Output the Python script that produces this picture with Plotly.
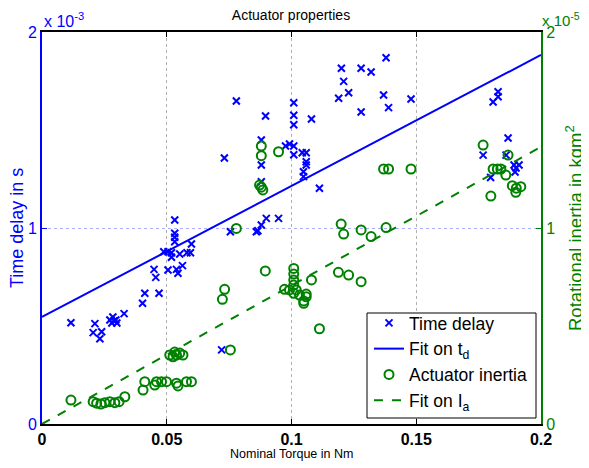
import plotly.graph_objects as go

# ---------------- data ----------------
# Time delay (units of 1e-3 s) vs nominal torque (Nm)
td_torque = [0.0116, 0.0212, 0.0205, 0.0239, 0.0232, 0.0272, 0.0284, 0.0296, 0.0280, 0.0300, 0.0288,
             0.0329, 0.0403, 0.0412, 0.0469, 0.0449, 0.0456, 0.0505, 0.0539, 0.0545, 0.0563,
             0.0488, 0.0505, 0.0519, 0.0519, 0.0552, 0.0581, 0.0595, 0.0599, 0.0532, 0.0532,
             0.0532, 0.0532, 0.0731, 0.0779, 0.0720, 0.0755, 0.0859, 0.0865, 0.0879, 0.0899,
             0.0948, 0.0879, 0.0879, 0.0879, 0.0896, 0.1009, 0.1009, 0.1009, 0.1080, 0.0976,
             0.0992, 0.1009, 0.1009, 0.1043, 0.1059, 0.1059, 0.1059, 0.1048, 0.1048, 0.1112,
             0.1200, 0.1209, 0.1189, 0.1229, 0.1279, 0.1319, 0.1379, 0.1369, 0.1389, 0.1479,
             0.1279, 0.1828, 0.1828, 0.1808, 0.1868, 0.1768, 0.1860, 0.1892, 0.1912, 0.1900,
             0.1896, 0.1798]
td_value_e3 = [0.517, 0.512, 0.466, 0.471, 0.435, 0.531, 0.546, 0.531, 0.515, 0.515, 0.526,
               0.563, 0.616, 0.667, 0.667, 0.789, 0.748, 0.786, 0.789, 0.769, 0.808,
               0.879, 0.879, 0.874, 0.851, 0.867, 0.874, 0.874, 0.918, 0.973, 0.953,
               0.930, 1.041, 1.357, 1.648, 0.378, 0.981, 0.981, 0.986, 1.015, 1.049,
               1.049, 1.449, 1.321, 1.236, 1.571, 1.639, 1.575, 1.527, 1.556, 1.418,
               1.429, 1.418, 1.374, 1.384, 1.384, 1.338, 1.321, 1.287, 1.262, 1.203,
               1.815, 1.748, 1.662, 1.690, 1.815, 1.796, 1.869, 1.679, 1.614, 1.658,
               1.592, 1.695, 1.670, 1.643, 1.459, 1.372, 1.372, 1.321, 1.321, 1.306,
               1.286, 1.258]

# Actuator inertia (units of 1e-5 kgm^2) vs nominal torque (Nm)
ia_torque = [0.0116, 0.0205, 0.0219, 0.0236, 0.0252, 0.0272, 0.0292, 0.0309, 0.0332, 0.0405,
             0.0412, 0.0452, 0.0459, 0.0479, 0.0499, 0.0539, 0.0545, 0.0579, 0.0599, 0.0512,
             0.0525, 0.0539, 0.0552, 0.0565, 0.0532, 0.0755, 0.0723, 0.0732, 0.0779, 0.0879,
             0.0879, 0.0948, 0.0872, 0.0879, 0.0885, 0.0895, 0.1009, 0.1009, 0.1009, 0.1009,
             0.0972, 0.0992, 0.1009, 0.1019, 0.1032, 0.1059, 0.1059, 0.1049, 0.1049, 0.1080,
             0.1112, 0.1188, 0.1229, 0.1279, 0.1199, 0.1209, 0.1279, 0.1319, 0.1379, 0.1369,
             0.1389, 0.1479, 0.1768, 0.1868, 0.1808, 0.1825, 0.1839, 0.1859, 0.1885, 0.1901,
             0.1919, 0.1899, 0.1799]
ia_value_e5 = [0.122, 0.114, 0.106, 0.102, 0.109, 0.114, 0.109, 0.114, 0.139, 0.173,
               0.216, 0.199, 0.216, 0.216, 0.216, 0.208, 0.194, 0.216, 0.216, 0.352,
               0.343, 0.352, 0.362, 0.352, 0.367, 0.378, 0.636, 0.687, 0.998, 1.418,
               1.369, 1.389, 1.219, 1.208, 1.194, 0.781, 0.794, 0.765, 0.735, 0.709,
               0.687, 0.684, 0.667, 0.684, 0.658, 0.663, 0.649, 0.628, 0.616, 0.735,
               0.486, 0.774, 0.760, 0.726, 1.020, 0.969, 0.990, 0.956, 1.002, 1.301,
               1.301, 1.301, 1.423, 1.372, 1.301, 1.301, 1.301, 1.270, 1.216, 1.203,
               1.211, 1.182, 1.163]

# Linear fits
fit_td_intercept_e3 = 0.546
fit_td_slope_e3 = 6.685
fit_ia_slope_e5 = 7.07
fit_torque = [0.0, 0.2]

x_ticks = [0, 0.05, 0.1, 0.15, 0.2]
x_ticklabels = ["0", "0.05", "0.1", "0.15", "0.2"]
y_ticks = [0, 1, 2]
y_ticklabels = ["0", "1", "2"]

# ---------------- figure ----------------
BLUE = "rgb(0,0,255)"
GREEN = "rgb(0,128,0)"
FONT = "Liberation Sans, Arial, Helvetica, sans-serif"

fit_td = [fit_td_intercept_e3 + fit_td_slope_e3 * t for t in fit_torque]
fit_ia = [fit_ia_slope_e5 * t for t in fit_torque]

fig = go.Figure()
fig.add_trace(go.Scatter(x=td_torque, y=td_value_e3, mode="markers", name="Time delay",
                         marker=dict(symbol="x-thin", size=7, color=BLUE,
                                     line=dict(color=BLUE, width=2))))
fig.add_trace(go.Scatter(x=fit_torque, y=fit_td, mode="lines", name="Fit on t<sub>d</sub>",
                         line=dict(color=BLUE, width=2)))
fig.add_trace(go.Scatter(x=ia_torque, y=ia_value_e5, mode="markers", name="Actuator inertia",
                         yaxis="y2",
                         marker=dict(symbol="circle-open", size=9, color=GREEN,
                                     line=dict(color=GREEN, width=2))))
fig.add_trace(go.Scatter(x=fit_torque, y=fit_ia, mode="lines", name="Fit on I<sub>a</sub>",
                         yaxis="y2", line=dict(color=GREEN, width=2, dash="dash")))

# page body adds an 8 px offset; margins place the plot area at x 42..541, y 32..424
fig.update_layout(
    width=589, height=468,
    margin=dict(l=34, r=56, t=24, b=52, autoexpand=False),
    paper_bgcolor="white", plot_bgcolor="white",
    font=dict(family=FONT, size=14, color="black"),
    title=dict(text="Actuator properties", x=(291 - 8) / 589, xanchor="center",
               y=1 - 7 / 468, yanchor="middle", yref="container",
               font=dict(size=14, color="black")),
    xaxis=dict(range=[0, 0.2], tickvals=x_ticks, ticktext=x_ticklabels,
               showline=True, linecolor="black", linewidth=2, mirror="ticks",
               ticks="inside", ticklen=5, tickcolor="black",
               showgrid=True, gridcolor="#b0b0b0", griddash="dot", gridwidth=1,
               zeroline=False,
               tickfont=dict(size=16, color="black", weight="bold")),
    yaxis=dict(range=[0, 2], tickvals=y_ticks, ticktext=y_ticklabels,
               showline=True, linecolor=BLUE, linewidth=2,
               ticks="inside", ticklen=5, tickcolor=BLUE,
               showgrid=True, gridcolor="rgba(120,120,255,0.6)", griddash="dot", gridwidth=1,
               zeroline=False, tickfont=dict(size=16, color=BLUE)),
    yaxis2=dict(range=[0, 2], tickvals=y_ticks, ticktext=y_ticklabels,
                overlaying="y", side="right", anchor="x",
                showline=True, linecolor=GREEN, linewidth=2,
                ticks="inside", ticklen=5, tickcolor=GREEN,
                showgrid=False, zeroline=False, tickfont=dict(size=16, color=GREEN)),
    legend=dict(x=(532 - 42) / 499, y=(424 - 418) / 392, xanchor="right", yanchor="bottom",
                bgcolor="rgba(0,0,0,0)", borderwidth=0,
                font=dict(size=17.5, color="black"), tracegroupgap=0,
                itemwidth=30),
    showlegend=True,
)

# legend frame (white box with black outline drawn over the data, under the legend)
fig.add_shape(type="rect", xref="paper", yref="paper",
              x0=(367 - 42) / 499, x1=(536 - 42) / 499,
              y0=(424 - 418) / 392, y1=(424 - 313) / 392,
              line=dict(color="black", width=1), fillcolor="white", layer="above")

fig.add_annotation(text="x 10<sup>-3</sup>", xref="paper", yref="paper", x=0.0, y=1.0,
                   xanchor="left", yanchor="bottom", showarrow=False, yshift=0,
                   font=dict(size=16, color=BLUE))
fig.add_annotation(text="x 10<sup>-5</sup>", xref="paper", yref="paper", x=1.0, y=1.0,
                   xanchor="left", yanchor="bottom", showarrow=False, xshift=-1, yshift=1,
                   font=dict(size=15, color=GREEN))
fig.add_annotation(text="Time delay in s", xref="paper", yref="paper", x=-25 / 499, y=0.5,
                   xanchor="center", yanchor="middle", textangle=-90, showarrow=False,
                   font=dict(size=18, color=BLUE))
fig.add_annotation(text="Rotational inertia in kgm<sup>2</sup>", xref="paper", yref="paper",
                   x=(574 - 42) / 499, y=0.5, xanchor="center", yanchor="middle",
                   textangle=-90, showarrow=False, font=dict(size=18.5, color=GREEN))
fig.add_annotation(text="Nominal Torque in Nm", xref="paper", yref="paper",
                   x=(291 - 42) / 499, y=-30 / 392, xanchor="center", yanchor="middle",
                   showarrow=False, font=dict(size=12.5, color="black"))

fig.write_html("out.html")
